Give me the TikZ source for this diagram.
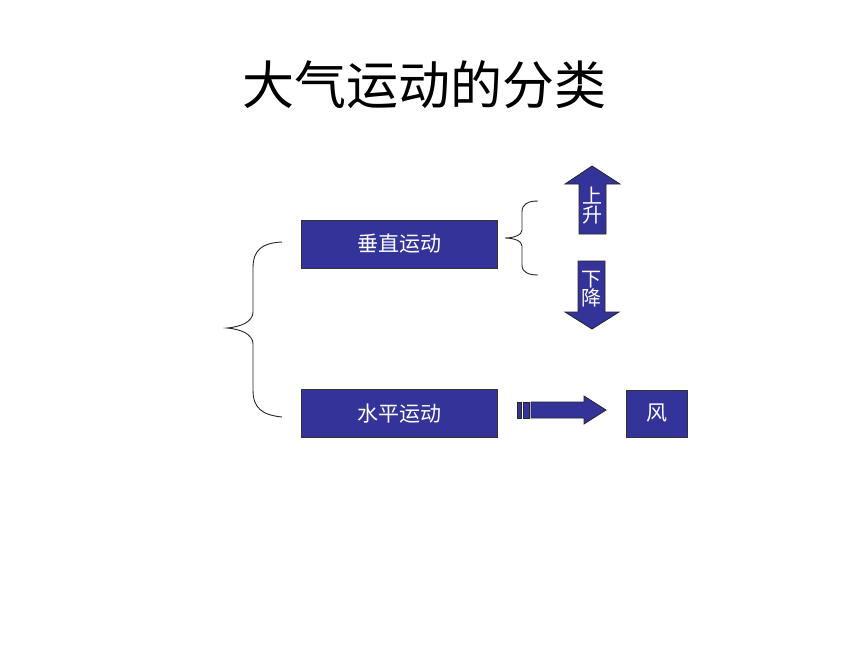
\documentclass[tikz,border=0pt]{standalone}
\usepackage{fontspec}
\newfontfamily\cjk{Noto Sans CJK SC}
\usetikzlibrary{positioning}

\begin{document}
\begin{tikzpicture}[x=1pt,y=-1pt]

\definecolor{boxblue}{RGB}{51,51,153}

\tikzset{
  kind/.style={draw=black!80,fill=boxblue,text=white,minimum width=196pt,
    minimum height=48pt,inner sep=0pt,font=\cjk\fontsize{21}{21}\selectfont},
  arrowfill/.style={draw=black!85,line width=0.8pt,fill=boxblue},
  arrowtext/.style={text=white,inner sep=0pt,font=\cjk\fontsize{20}{21}\selectfont,align=center},
  brace/.style={line width=0.9pt,black!85}
}

\useasboundingbox (0,0) rectangle (860,645);

\node[font=\cjk\fontsize{52}{52}\selectfont] (title) at (424,85) {大气运动的分类};

\node[kind] (vert) at (399,244) {垂直运动};
\node[kind] (horz) at (399,413.5) {水平运动};
\node[kind,minimum width=61pt,minimum height=47pt] (wind) at (656.5,413.5) {风};

% big brace
\draw[brace] (282,242) .. controls (262,243) and (253,250) .. (253,268)
  -- (253,312) .. controls (253,322) and (240,327) .. (227,328)
  .. controls (240,329) and (253,334) .. (253,344)
  -- (253,390) .. controls (253,408) and (262,415) .. (282,417);

% small brace
\draw[brace] (538,201) .. controls (528,201) and (522,204) .. (522,212)
  -- (522,230) .. controls (522,235) and (514,238) .. (505,238)
  .. controls (514,238) and (522,241) .. (522,246)
  -- (522,265) .. controls (522,272) and (528,275) .. (538,275);

% up and down
\draw[arrowfill] (579,234) -- (579,184) -- (565,184) -- (592,166) -- (620,184)
  -- (606,184) -- (606,234) -- cycle;
\node[arrowtext] (up) at (592.5,206) {上\\[-2pt]升};
\draw[arrowfill] (578,261) -- (605,261) -- (605,312) -- (619,312) -- (592,329)
  -- (565,312) -- (578,312) -- cycle;
\node[arrowtext] (down) at (591.5,289) {下\\[-2pt]降};

% striped arrow
\draw[arrowfill] (517,402) rectangle (521,418);
\draw[arrowfill] (523,402) rectangle (529,418);
\draw[arrowfill] (531,402) -- (584,402) -- (584,396) -- (606,410) -- (584,424)
  -- (584,418) -- (531,418) -- cycle;

\end{tikzpicture}
\end{document}
